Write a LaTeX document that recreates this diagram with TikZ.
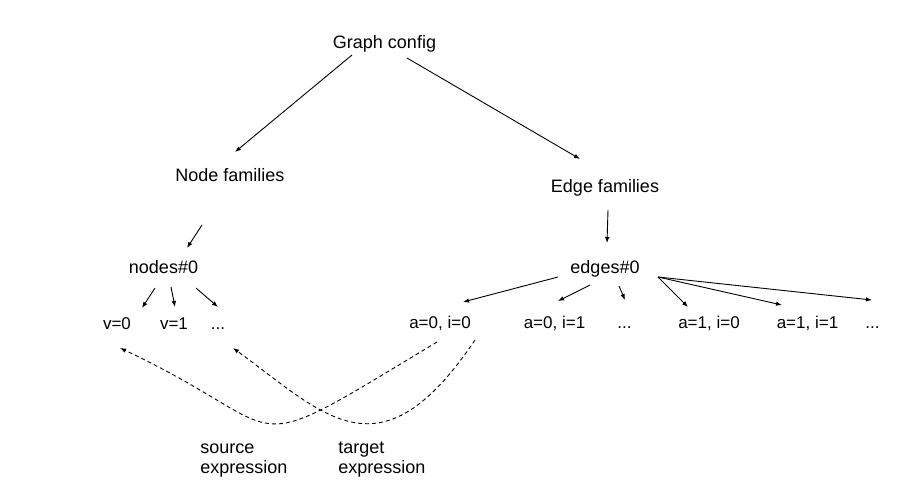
\documentclass[tikz,border=0pt]{standalone}
\usepackage{fontspec}
\setmainfont{Liberation Sans}
\usetikzlibrary{arrows.meta}
\begin{document}
\begin{tikzpicture}[x=1pt, y=-1pt, line width=0.9pt,
	main/.style = {anchor=base, inner sep=0pt, font=\fontsize{18}{20}\selectfont},
	leaf/.style = {anchor=base, inner sep=0pt, font=\fontsize{17}{20}\selectfont},
	note/.style = {anchor=base west, inner sep=0pt, align=left, font=\fontsize{18}{20}\selectfont},
	arr/.style = {-{Latex[length=6pt,width=4.5pt]}},
	expr/.style = {arr, dash pattern=on 4pt off 3pt}]
	\useasboundingbox (0,0) rectangle (917,501);
	\node[main] (G) at (384.5,48) {Graph config};
	\node[main] (NF) at (230,181) {Node families};
	\node[main] (EF) at (605,192) {Edge families};
	\node[main] (N0) at (163.5,273) {nodes\#0};
	\node[main] (E0) at (605,273) {edges\#0};
	\node[leaf] (V0) at (117,329) {v=0};
	\node[leaf] (V1) at (174,329) {v=1};
	\node[leaf] (VD) at (218,329) {...};
	\node[leaf] (A00) at (440,328) {a=0, i=0};
	\node[leaf] (A01) at (554.5,328) {a=0, i=1};
	\node[leaf] (AD) at (624.5,328) {...};
	\node[leaf] (A10) at (709,328) {a=1, i=0};
	\node[leaf] (A11) at (807.5,328) {a=1, i=1};
	\node[leaf] (A1D) at (872.5,328) {...};
	\node[note] (S) at (200,473) {source\\expression};
	\node[note] (T) at (338,473) {target\\expression};
	\draw[arr] ([shift={(-32.5,7)}]G.base) -- ([shift={(5,-29)}]NF.base);
	\draw[arr] ([shift={(22.5,10)}]G.base) -- ([shift={(-25,-33)}]EF.base);
	\draw[arr] ([shift={(-28,44)}]NF.base) -- ([shift={(23.5,-25)}]N0.base);
	\draw[arr] ([shift={(3,18)}]EF.base) -- ([shift={(2,-30)}]E0.base);
	\draw[arr] ([shift={(-8.5,15)}]N0.base) -- ([shift={(25,-21)}]V0.base);
	\draw[arr] ([shift={(7.5,14)}]N0.base) -- ([shift={(1,-22)}]V1.base);
	\draw[arr] ([shift={(32.5,15)}]N0.base) -- ([shift={(0,-22)}]VD.base);
	\draw[arr] ([shift={(-47,4)}]E0.base) -- ([shift={(23,-26)}]A00.base);
	\draw[arr] ([shift={(-15,12)}]E0.base) -- ([shift={(3.5,-27)}]A01.base);
	\draw[arr] ([shift={(14,13)}]E0.base) -- ([shift={(0.5,-28)}]AD.base);
	\draw[arr] ([shift={(53,4)}]E0.base) -- ([shift={(-21,-21)}]A10.base);
	\draw[arr] ([shift={(53,4)}]E0.base) -- ([shift={(-25.5,-23)}]A11.base);
	\draw[arr] ([shift={(53,4)}]E0.base) -- ([shift={(-0.5,-28)}]A1D.base);
	\draw[expr] ([shift={(-3,14)}]A00.base) .. controls +(-206,124) and +(181,85) .. ([shift={(3,19)}]V0.base);
	\draw[expr] ([shift={(35,12)}]A00.base) .. controls +(-95,141) and +(92,67) .. ([shift={(15,19)}]VD.base);
\end{tikzpicture}
\end{document}
